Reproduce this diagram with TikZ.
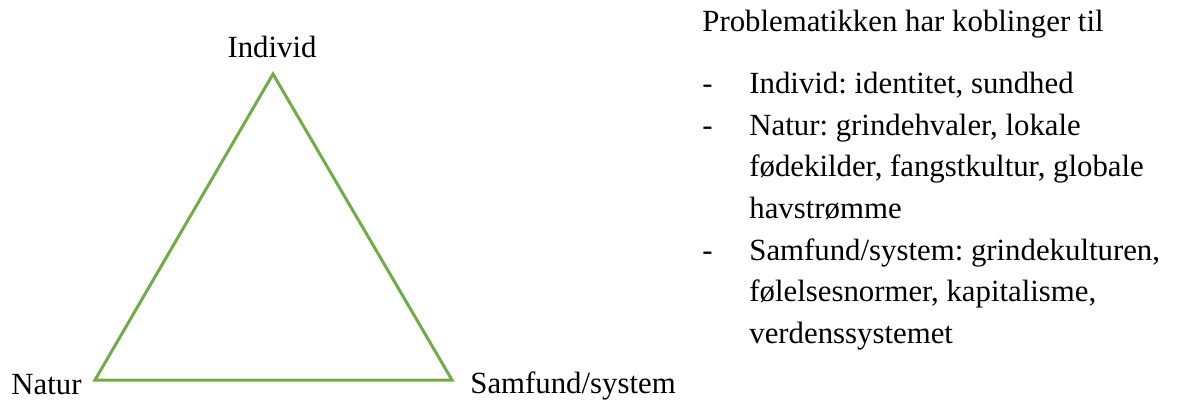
\documentclass[tikz,border=0pt]{standalone}
\usepackage{fontspec}
\setmainfont{Liberation Serif}
\usepackage{xcolor}
\definecolor{leafgreen}{HTML}{70AD47}
\frenchspacing
\tikzset{x=0.5pt, y=-0.5pt,
 every node/.style={inner sep=0pt, font=\fontsize{15.4}{17}\selectfont},
 side/.style={draw=leafgreen, line width=1.5pt, line join=miter},
 line/.style={anchor=base west},
 }

\begin{document}
\begin{tikzpicture}
        \useasboundingbox (0,0) rectangle (1187,403);
        % triangle
        \coordinate (top) at (273,74);
        \coordinate (left) at (95,380);
        \coordinate (right) at (452,380);
        \draw[side] (top) -- (left) -- (right) -- cycle;
        \node[anchor=base] (individ) at (272,57) {Individ};
        \node[anchor=base east] (natur) at (82,394) {Natur};
        \node[anchor=base west] (samfund) at (470,393) {Samfund/system};

        % list
        \node[line] (head) at (702,31) {Problematikken har koblinger til};
        \node[line] (d1) at (702,93) {-};
        \node[line] (i1) at (749,93) {Individ: identitet, sundhed};
        \node[line] (d2) at (702,135) {-};
        \node[line] (i2a) at (749,135) {Natur: grindehvaler, lokale};
        \node[line] (i2b) at (749,176) {fødekilder, fangstkultur, globale};
        \node[line] (i2c) at (749,218) {havstrømme};
        \node[line] (d3) at (702,260) {-};
        \node[line] (i3a) at (749,260) {Samfund/system: grindekulturen,};
        \node[line] (i3b) at (749,301) {følelsesnormer, kapitalisme,};
        \node[line] (i3c) at (749,343) {verdenssystemet};
    \end{tikzpicture}
\end{document}
